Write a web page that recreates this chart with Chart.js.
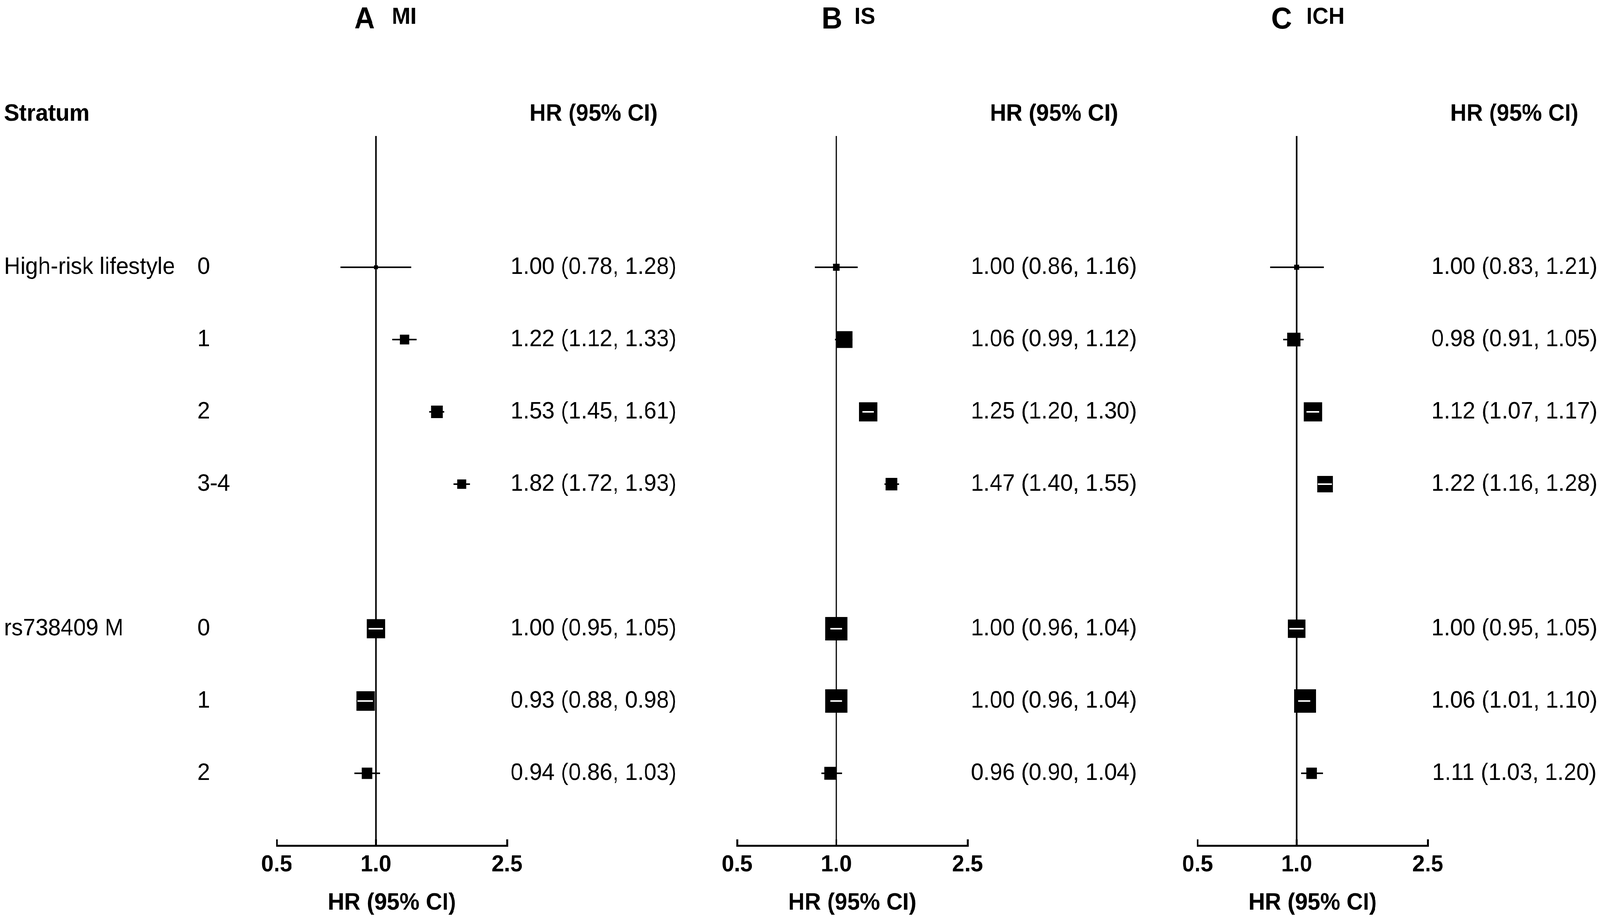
<!DOCTYPE html>
<html>
<head>
<meta charset="utf-8">
<title>Forest plots: MI, IS, ICH</title>
<script src="https://cdn.jsdelivr.net/npm/chart.js@4/dist/chart.umd.min.js"></script>
<style>
  html, body { margin: 0; padding: 0; background: #fff; overflow: hidden; }
  #figure { position: relative; width: 4313px; height: 2357px; overflow: hidden; transform-origin: 0 0; }
  .panel { position: absolute; top: 0; width: 1831px; height: 2357px; }
</style>
</head>
<body>
<div id="figure">
  <div class="panel" style="left:0px"><canvas id="panel-a"></canvas></div>
  <div class="panel" style="left:1241px"><canvas id="panel-b"></canvas></div>
  <div class="panel" style="left:2482px"><canvas id="panel-c"></canvas></div>
</div>
<script>
"use strict";

// Strata
const groups = ["High-risk lifestyle", "rs738409 M"];
const levelsLifestyle = ["0", "1", "2", "3-4"];
const levelsSnp = ["0", "1", "2"];

// Panels
const panelLetters = ["A", "B", "C"];
const outcomes = ["MI", "IS", "ICH"];

// MI
const hrMI = [1.00, 1.22, 1.53, 1.82, 1.00, 0.93, 0.94];
const loMI = [0.78, 1.12, 1.45, 1.72, 0.95, 0.88, 0.86];
const hiMI = [1.28, 1.33, 1.61, 1.93, 1.05, 0.98, 1.03];
const boxMI = [0.054, 0.135, 0.173, 0.13, 0.265, 0.27, 0.157];

// IS
const hrIS = [1.00, 1.06, 1.25, 1.47, 1.00, 1.00, 0.96];
const loIS = [0.86, 0.99, 1.20, 1.40, 0.96, 0.96, 0.90];
const hiIS = [1.16, 1.12, 1.30, 1.55, 1.04, 1.04, 1.04];
const boxIS = [0.097, 0.232, 0.265, 0.173, 0.324, 0.324, 0.178];

// ICH
const hrICH = [1.00, 0.98, 1.12, 1.22, 1.00, 1.06, 1.11];
const loICH = [0.83, 0.91, 1.07, 1.16, 0.95, 1.01, 1.03];
const hiICH = [1.21, 1.05, 1.17, 1.28, 1.05, 1.10, 1.20];
const boxICH = [0.070, 0.189, 0.265, 0.227, 0.254, 0.324, 0.157];

// x axis
const tickValues = [0.5, 1.0, 2.5];
const axisTitle = "HR (95% CI)";

// layout (design px)
const FIG_W = 4313;
const FIG_H = 2357;
const PANEL_W = 1831;
const FONT = '"Liberation Sans", Arial, Helvetica, sans-serif';
const AREA = { left: 746, right: 1367, top: 348, bottom: 2164 };
const Y_MIN = -1.816;
const Y_MAX = 8.0;
const TEXT_COL = 1600;
const LEVEL_X = 532;
const LABEL_X = 11;
const HEADER_Y = 292;
const TITLE_X = [955, 974, 945];
const SUB_X = [1056, 1062, 1039];
const LINE_W = 4;

// stretch the figure over the whole window
function fitFigure() {
  const fig = document.getElementById("figure");
  const sx = window.innerWidth / FIG_W;
  const sy = window.innerHeight / FIG_H;
  fig.style.transform = `scale(${sx}, ${sy})`;
}
fitFigure();

// rows: one row per level, blank row between groups
function buildRows() {
  const rows = [];
  let y = 0;
  [levelsLifestyle, levelsSnp].forEach((levels, g) => {
    levels.forEach((lev, k) => {
      rows.push({ y: y, group: k === 0 ? groups[g] : "", level: lev });
      y++;
    });
    y++;
  });
  return rows;
}
const rows = buildRows();

function rowPx(chart) {
  const ys = chart.scales.y;
  return Math.abs(ys.getPixelForValue(1) - ys.getPixelForValue(0));
}

function fmt(v) {
  return v.toFixed(2);
}

function textPlugin(p, hr, lo, hi) {
  return {
    id: "forestText" + p,
    afterDraw(chart) {
      const ctx = chart.ctx;
      const ys = chart.scales.y;
      ctx.save();
      ctx.fillStyle = "#000";

      // panel title
      ctx.textBaseline = "alphabetic";
      ctx.textAlign = "left";
      ctx.font = "bold 77px " + FONT;
      ctx.fillText(panelLetters[p], TITLE_X[p], 73);
      ctx.font = "bold 60px " + FONT;
      ctx.fillText(outcomes[p], SUB_X[p], 61);

      // headers
      ctx.textBaseline = "middle";
      ctx.font = "bold 61px " + FONT;
      if (p === 0) ctx.fillText("Stratum", LABEL_X, HEADER_Y);
      ctx.textAlign = "center";
      ctx.fillText("HR (95% CI)", TEXT_COL, HEADER_Y);

      // rows
      ctx.font = "61px " + FONT;
      rows.forEach((r, i) => {
        const py = ys.getPixelForValue(r.y);
        if (p === 0) {
          ctx.textAlign = "left";
          if (r.group) ctx.fillText(r.group, LABEL_X, py);
          ctx.fillText(r.level, LEVEL_X, py);
        }
        ctx.textAlign = "center";
        ctx.fillText(`${fmt(hr[i])} (${fmt(lo[i])}, ${fmt(hi[i])})`, TEXT_COL, py);
      });
      ctx.restore();
    },
  };
}

function ciData(lo, hi) {
  const pts = [];
  rows.forEach((r, i) => {
    pts.push({ x: lo[i], y: r.y });
    pts.push({ x: hi[i], y: r.y });
    pts.push({ x: hi[i], y: null });
  });
  return pts;
}

function renderPanel(canvasId, p, hr, lo, hi, box) {
  const canvas = document.getElementById(canvasId);

  return new Chart(canvas, {
    type: "scatter",
    data: {
      datasets: [
        {
          // white line inside boxes wider than the CI
          type: "line",
          data: ciData(lo, hi),
          borderWidth: LINE_W,
          borderColor: "transparent",
          borderCapStyle: "butt",
          pointRadius: 0,
          spanGaps: false,
          order: 0,
          segment: {
            borderColor: (c) => {
              const i = Math.floor(c.p0DataIndex / 3);
              const size = box[i] * rowPx(c.chart);
              return c.p1.x - c.p0.x < size ? "#ffffff" : "transparent";
            },
          },
        },
        {
          // boxes
          type: "scatter",
          data: rows.map((r, i) => ({ x: hr[i], y: r.y })),
          pointStyle: "rect",
          backgroundColor: "#000",
          borderWidth: 0,
          pointBorderWidth: 0,
          pointRadius: (c) => (box[c.dataIndex] * rowPx(c.chart)) / Math.SQRT2,
          order: 1,
        },
        {
          // confidence intervals
          type: "line",
          data: ciData(lo, hi),
          borderWidth: LINE_W,
          borderColor: "#000",
          borderCapStyle: "butt",
          pointRadius: 0,
          spanGaps: false,
          order: 2,
        },
        {
          // no-effect line
          type: "line",
          data: [
            { x: 1, y: Y_MIN },
            { x: 1, y: Y_MAX },
          ],
          borderWidth: LINE_W,
          borderColor: "#000",
          pointRadius: 0,
          order: 3,
        },
      ],
    },
    options: {
      responsive: true,
      maintainAspectRatio: false,
      animation: false,
      events: [],
      layout: {
        padding: { left: AREA.left, right: PANEL_W - AREA.right, top: AREA.top, bottom: 0 },
      },
      plugins: {
        legend: { display: false },
        tooltip: { enabled: false },
      },
      scales: {
        x: {
          type: "logarithmic",
          position: "bottom",
          min: tickValues[0],
          max: tickValues[tickValues.length - 1],
          afterBuildTicks: (scale) => {
            scale.ticks = tickValues.map((v) => ({ value: v }));
          },
          afterFit: (scale) => {
            scale.height = FIG_H - AREA.bottom;
          },
          ticks: {
            autoSkip: false,
            maxRotation: 0,
            padding: 29,
            color: "#000",
            font: { family: FONT, size: 60, weight: "bold" },
            callback: (v) => Number(v).toFixed(1),
          },
          grid: {
            display: true,
            drawOnChartArea: false,
            drawTicks: true,
            tickLength: -16,
            color: "#000",
            lineWidth: 5,
          },
          border: { display: true, color: "#000", width: 5 },
          title: {
            display: true,
            text: axisTitle,
            color: "#000",
            font: { family: FONT, size: 61, weight: "bold" },
            padding: { top: 0, bottom: 9 },
          },
        },
        y: {
          type: "linear",
          display: false,
          reverse: true,
          min: Y_MIN,
          max: Y_MAX,
        },
      },
    },
    plugins: [textPlugin(p, hr, lo, hi)],
  });
}

renderPanel("panel-a", 0, hrMI, loMI, hiMI, boxMI);
renderPanel("panel-b", 1, hrIS, loIS, hiIS, boxIS);
renderPanel("panel-c", 2, hrICH, loICH, hiICH, boxICH);
</script>
</body>
</html>
